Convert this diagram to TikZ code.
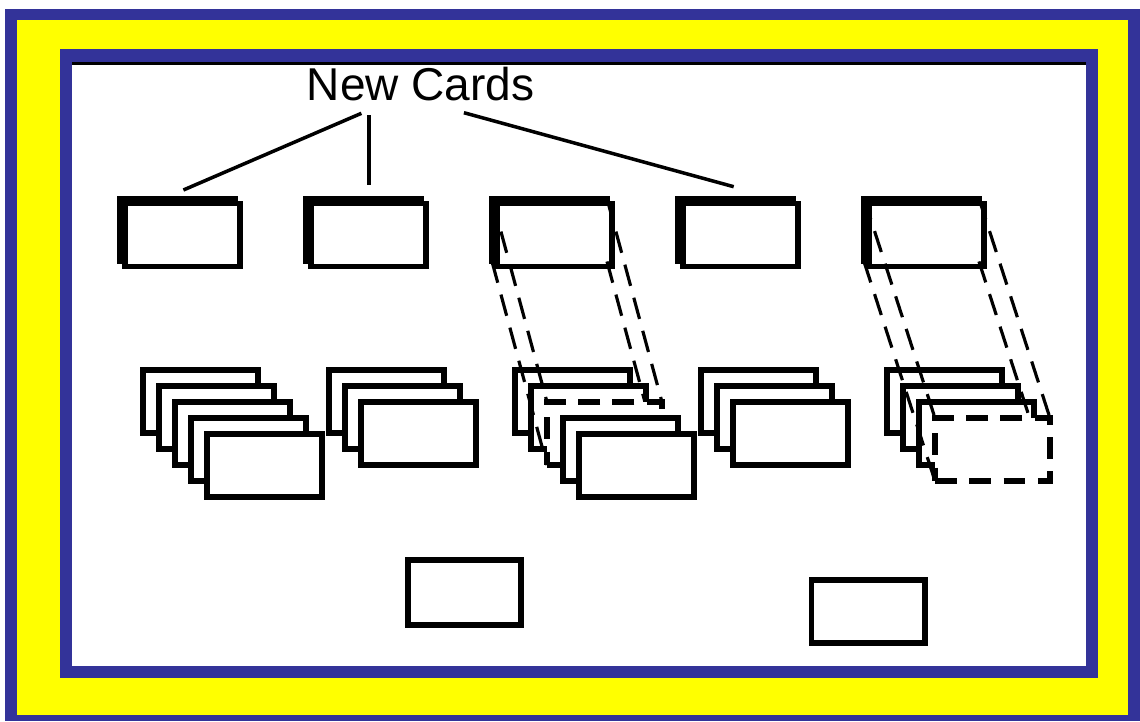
\documentclass[tikz,border=0pt]{standalone}
\usepackage{fontspec}
\setmainfont{Liberation Sans}
\usepackage{xcolor}
\definecolor{frameblue}{RGB}{51,51,153}
\definecolor{frameyellow}{RGB}{255,255,0}

\begin{document}
\begin{tikzpicture}[
    x=0.02cm, y=-0.02cm,
    font=\fontsize{26.2}{30}\selectfont,
    cardshape/.style={rectangle, inner sep=0pt, outer sep=0pt, anchor=north west,
        minimum width=2.3cm, minimum height=1.26cm},
    card/.style={cardshape, draw, fill=white, line width=3pt},
    ghost/.style={card, dash pattern=on 12.5pt off 7pt},
    ray/.style={line width=1.8pt, dash pattern=on 12.5pt off 7pt},
    branch/.style={line width=2pt},
    slot/.style={cardshape, draw, fill=white, line width=3.3pt}
]
\useasboundingbox (0,0) rectangle (1140,721);

% --- FRAME ---
\fill[white] (0,0) rectangle (1140,721);
\fill[frameblue] (5,9) rectangle (1140,721);
\fill[frameyellow] (17,20) rectangle (1128,715);
\fill[frameblue] (60,49) rectangle (1098,678);
\fill[white] (72,62) rectangle (1086,666);
\draw[line width=1.4pt] (72,63.5) -- (1086,63.5);

% --- TITLE ---
\node[anchor=base] (title) at (420.7,100) {New Cards};

% --- TOP ROW (back + front) ---
\foreach \s in {1,...,5} {
  \pgfmathsetmacro{\tx}{120+186*(\s-1)}
  \node[card] (top\s) at (\tx,198.5) {};
  \node[card] (top\s f) at (\tx+5,203.5) {};
}

% --- BRANCHES ---
\coordinate (t1) at (361.4,113.3); \coordinate (b1) at (183.4,190);
\coordinate (t2) at (369,115);     \coordinate (b2) at (369,185);
\coordinate (t3) at (463.9,112.7); \coordinate (b3) at (733.7,186.7);
\foreach \i in {1,2,3} \draw[branch] (t\i) -- (b\i);

% --- STACKS (x / cards / dashed one) ---
\foreach \sx/\n/\g [count=\s] in {143/5/0, 329/3/0, 515/5/3, 701/3/0, 887/4/4} {
  \foreach \k in {1,...,\n} {
    \pgfmathsetmacro{\cx}{\sx+16*(\k-1)}
    \pgfmathsetmacro{\cy}{370+16*(\k-1)}
    \ifnum\k=\g
      \node[cardshape] (st\s-\k) at (\cx,\cy) {};
      \foreach \a in {north west, north east, south west, south east}
        \draw[ray] (top\s.\a) -- (st\s-\k.\a);
      \node[ghost] (st\s-\k d) at (st\s-\k.north west) {};
    \else
      \node[card] (st\s-\k) at (\cx,\cy) {};
    \fi
  }
}

% --- BOTTOM SLOTS ---
\node[slot, minimum width=2.26cm, minimum height=1.3cm] (slot1) at (408,560) {};
\node[slot, minimum width=2.28cm, minimum height=1.26cm] (slot2) at (811.4,579.7) {};

\end{tikzpicture}
\end{document}
